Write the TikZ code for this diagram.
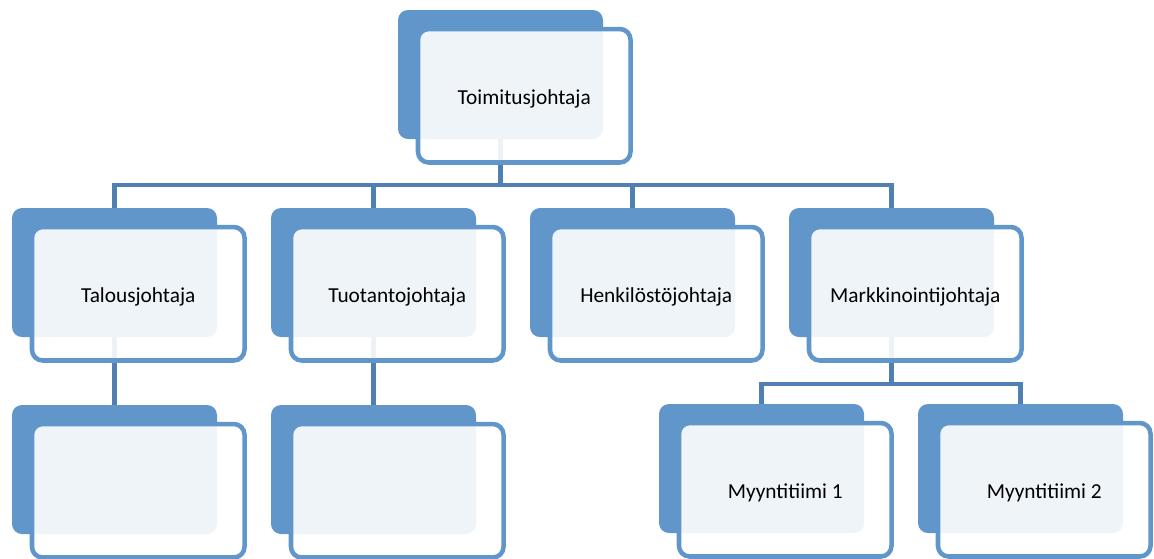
\documentclass[tikz,border=0pt]{standalone}
\usepackage{fontspec}
\setmainfont{Carlito}
\usetikzlibrary{backgrounds}
\definecolor{boxblue}{HTML}{6096CA}
\definecolor{connblue}{HTML}{5080B3}
\tikzset{
  backbox/.style={draw=none, fill=boxblue, rounded corners=7.5pt, minimum width=153.75pt, minimum height=96.75pt, inner sep=0pt},
  frontbox/.style={draw=boxblue, line width=3.4pt, fill=white, fill opacity=0.9, text opacity=1, rounded corners=8pt, minimum width=159.4pt, minimum height=100.1pt, inner sep=0pt, font=\fontsize{16}{19}\selectfont, text=black},
  conn/.style={draw=connblue, line width=3.4pt}
}
\newcommand{\orgbox}[4]{%
  \node[backbox] (#1) at (#2+102.5,#3+64.5) {};
  \node[frontbox] (#1f) at (#2+126.25,#3+85.75) {};
  \node[font=\fontsize{16}{19}\selectfont, inner sep=0pt] (#1t) at (#2+126.25,#3+88.5) {#4};
}
\begin{document}
\begin{tikzpicture}[x=0.75pt,y=-0.75pt]
\useasboundingbox (0,0) rectangle (1154,558);
\clip (0,0) rectangle (1154,558);
\orgbox{ceo}{398}{10}{Toimitusjohtaja}
\orgbox{tal}{12}{208}{Talousjohtaja}
\orgbox{tuo}{271}{208}{Tuotantojohtaja}
\orgbox{hen}{530}{208}{Henkilöstöjohtaja}
\orgbox{mar}{789}{208}{Markkinointijohtaja}
\orgbox{talc}{12}{405}{}
\orgbox{tuoc}{271}{405}{}
\orgbox{mya}{659}{404}{Myyntitiimi 1}
\orgbox{myb}{918}{404}{Myyntitiimi 2}
\coordinate (busA) at (113,185);
\coordinate (busB) at (762,384);
\begin{scope}[on background layer]
  \draw[conn] (ceo.south) -- (ceo.south |- busA) -| (tal.north);
  \draw[conn] (ceo.south) -- (ceo.south |- busA) -| (tuo.north);
  \draw[conn] (ceo.south) -- (ceo.south |- busA) -| (hen.north);
  \draw[conn] (ceo.south) -- (ceo.south |- busA) -| (mar.north);
  \draw[conn] (tal.south) -- (talc.north);
  \draw[conn] (tuo.south) -- (tuoc.north);
  \draw[conn] (mar.south) -- (mar.south |- busB) -| (mya.north);
  \draw[conn] (mar.south) -- (mar.south |- busB) -| (myb.north);
\end{scope}
\end{tikzpicture}
\end{document}
